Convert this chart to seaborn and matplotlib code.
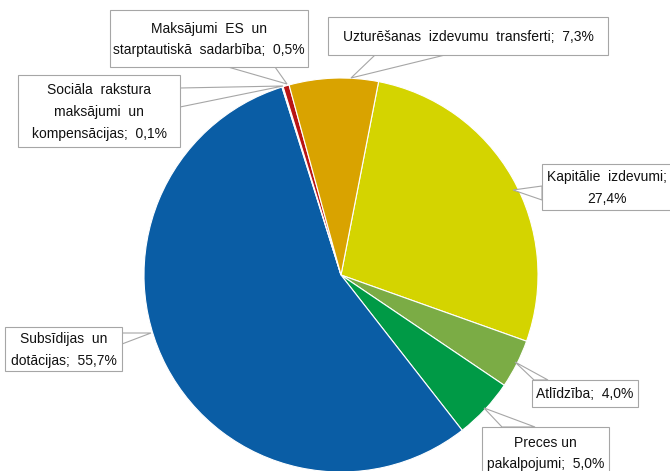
import matplotlib
matplotlib.use("Agg")
import matplotlib.pyplot as plt
import seaborn as sns
from matplotlib.patches import Rectangle, Polygon

# Data (clockwise from the top, as in the reference)
categories = [
    "Kapitālie  izdevumi",
    "Atlīdzība",
    "Preces un\npakalpojumi",
    "Subsīdijas  un\ndotācijas",
    "Sociāla  rakstura\nmaksājumi  un\nkompensācijas",
    "Maksājumi  ES  un\nstarptautiskā  sadarbība",
    "Uzturēšanas  izdevumu  transferti",
]
shares = [27.4, 4.0, 5.0, 55.7, 0.1, 0.5, 7.3]
value_sep = ["\n", "  ", "  ", "  ", "  ", "  ", "  "]

colors = ["#D4D400", "#7BAC45", "#009A46", "#0A5DA5", "#E8E8E8", "#B81414", "#D9A300"]

# callout layout in pixels: box (x0, y0, x1, y1), base points on box edge, tip on pie
boxes = [
    (542, 164, 672, 210),
    (532, 380, 638, 407),
    (482, 427, 609, 478),
    (5, 327, 122, 371),
    (18, 75, 180, 147),
    (110, 10, 308, 67),
    (328, 17, 608, 55),
]
bases = [
    ((542, 186), (542, 200)),
    ((534, 380), (548, 380)),
    ((502, 427), (535, 427)),
    ((122, 333), (122, 344)),
    ((180, 88), (180, 107)),
    ((228, 67), (275, 67)),
    ((375, 55), (445, 55)),
]
tips = [(513, 190), (515, 362), (484, 408), (151, 333), (283, 86), (287, 84), (351, 78)]

sns.set_theme(style="white")
plt.rcParams['font.family'] = ['Liberation Sans Narrow', 'Liberation Sans', 'DejaVu Sans']

W, H = 670, 471
fig = plt.figure(figsize=(W / 100, H / 100), dpi=100)
ax = fig.add_axes([0, 0, 1, 1])

ax.pie(shares, colors=colors, center=(341, 275), radius=197,
       startangle=-79, counterclock=True,
       wedgeprops=dict(edgecolor="white", linewidth=0.8))
ax.set_xlim(0, W)
ax.set_ylim(H, 0)
ax.set_aspect("equal")
ax.axis("off")

for name, v, sep, box, base, tip in zip(categories, shares, value_sep, boxes, bases, tips):
    label = f"{name};{sep}{v:.1f}%".replace(".", ",")
    x0, y0, x1, y1 = box
    ax.add_patch(Polygon([base[0], tip, base[1]], closed=True, facecolor="white",
                         edgecolor="#A6A6A6", linewidth=0.8, zorder=3))
    ax.add_patch(Rectangle((x0, y0), x1 - x0, y1 - y0, facecolor="white",
                           edgecolor="#A6A6A6", linewidth=0.8, zorder=4))
    ax.text((x0 + x1) / 2, (y0 + y1) / 2 + 1, label, ha="center", va="center",
            fontsize=10, color="#111111", linespacing=1.7, zorder=5)

fig.savefig("out.png", dpi=100)
